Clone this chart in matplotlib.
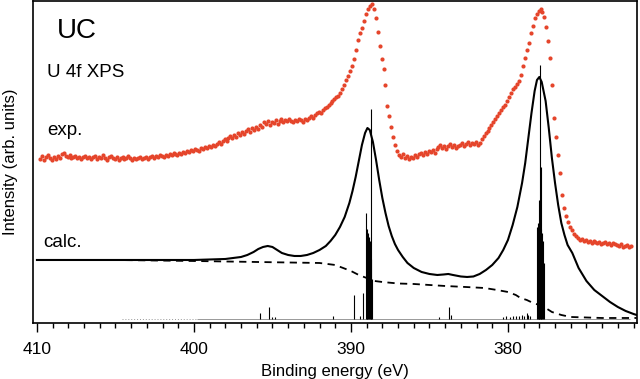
import numpy as np
import matplotlib
matplotlib.use('Agg')
import matplotlib.pyplot as plt
from matplotlib.ticker import MultipleLocator

plt.rcParams['font.family'] = ['Liberation Sans', 'DejaVu Sans']

# experimental U 4f XPS (red dots), measured from 409.8 down to 372.2 eV
exp_intensity = [
    164, 167, 163, 166, 168, 165, 163, 166, 164, 167,
    165, 169, 170, 167, 166, 168, 165, 166, 167, 165,
    166, 164, 166, 167, 165, 166, 164, 166, 167, 164,
    166, 165, 168, 165, 163, 166, 167, 165, 164, 166,
    163, 165, 166, 164, 165, 167, 165, 163, 165, 164,
    165, 166, 164, 165, 166, 164, 166, 167, 165, 167,
    166, 168, 167, 166, 168, 167, 169, 168, 170, 169,
    168, 170, 169, 171, 170, 172, 171, 173, 172, 174,
    173, 172, 175, 174, 176, 175, 177, 176, 178, 177,
    179, 181, 179, 182, 184, 182, 185, 187, 185, 188,
    186, 190, 188, 191, 189, 192, 194, 191, 195, 193,
    196, 194, 198, 196, 201, 199, 202, 198, 201, 200,
    203, 199, 202, 204, 201, 203, 202, 204, 202, 201,
    203, 202, 204, 203, 201, 204, 203, 205, 207, 205,
    208, 210, 211, 210, 213, 215, 216, 218, 220, 222,
    224, 226, 227, 230, 234, 238, 243, 247, 252, 257,
    264, 273, 283, 290, 295, 302, 309, 314, 317, 319,
    314, 305, 291, 277, 264, 254, 238, 217, 207, 196,
    186, 178, 172, 168, 166, 169, 165, 167, 164, 166,
    165, 168, 166, 169, 170, 168, 171, 169, 172, 171,
    173, 170, 174, 176, 178, 175, 177, 174, 177, 179,
    176, 178, 175, 177, 178, 180, 177, 179, 181, 178,
    180, 179, 181, 178, 180, 184, 187, 190, 192, 195,
    198, 201, 204, 207, 210, 213, 216, 218, 222, 226,
    230, 234, 236, 239, 242, 248, 257, 265, 273, 280,
    290, 297, 305, 309, 312, 314, 311, 306, 296, 282,
    265, 238, 205, 186, 168, 150, 128, 115, 107, 101,
    96, 93, 89, 87, 85, 83, 84, 82, 83, 81,
    82, 80, 82, 81, 80, 81, 79, 80, 81, 79,
    80, 78, 80, 79, 78, 77, 79, 76, 77, 78,
    76, 77,
]
exp_energy = np.linspace(409.8, 372.175, len(exp_intensity))

# calculated spectrum (solid)
calc_energy = [410.0, 408.0, 406.0, 404.0, 402.0, 400.0, 399.0, 398.0, 397.5, 397.0,
               396.6, 396.2, 395.9, 395.6, 395.3, 395.0, 394.7, 394.4, 394.0, 393.6,
               393.2, 392.8, 392.4, 392.0, 391.6, 391.3, 391.0, 390.7, 390.4, 390.1,
               389.9, 389.7, 389.5, 389.3, 389.1, 388.95, 388.8, 388.6, 388.4, 388.2,
               388.0, 387.8, 387.6, 387.4, 387.2, 387.0, 386.7, 386.4, 386.0, 385.5,
               385.0, 384.5, 384.1, 383.8, 383.5, 383.0, 382.6, 382.2, 381.8, 381.4,
               381.0, 380.6, 380.3, 380.0, 379.7, 379.4, 379.1, 378.9, 378.7, 378.5,
               378.3, 378.15, 378.0, 377.85, 377.6, 377.4, 377.2, 377.0, 376.8, 376.6,
               376.4, 376.2, 375.9, 375.5, 375.0, 374.5, 374.0, 373.5, 373.0, 372.5,
               372.0, 371.8]
calc_intensity = [63, 63, 63, 63, 63, 63, 63.5, 64, 65, 66,
                  68, 71, 74, 76, 77, 76, 73, 70, 68, 67,
                  67, 68, 70, 73, 77, 82, 88, 96, 106, 120,
                  132, 146, 162, 178, 190, 195, 193, 181, 163, 143,
                  125, 110, 97, 87, 79, 73, 66, 60, 55, 51,
                  49, 48, 48.5, 49, 48, 46.5, 46, 46.5, 49, 53,
                  58, 65, 73, 83, 98, 116, 140, 160, 185, 210,
                  232, 243, 246, 241, 222, 195, 165, 140, 118, 100,
                  88, 78, 70, 55, 42, 33, 27, 21, 16, 12,
                  9, 8]

# background (dashed)
bg_energy = [410.0, 405.0, 400.0, 396.0, 392.0, 391.0, 390.5, 390.0, 389.5, 389.0,
             388.5, 388.0, 387.0, 386.0, 384.0, 382.7, 381.5, 380.7, 380.0, 379.5,
             379.2, 378.8, 378.4, 378.0, 377.6, 377.2, 376.6, 376.0, 374.0, 372.0,
             371.8]
bg_intensity = [63, 63, 62, 61, 60, 58, 55, 52, 48, 45,
                42, 41, 39.5, 39, 37, 36, 35, 33, 31, 28,
                25, 23, 20, 18, 15, 11, 8, 6, 5, 5,
                5]

# line spectrum (sticks)
stick_base = 3.5
stick_energy = [395.8, 395.25, 395.0, 394.85, 391.15, 389.8, 389.4, 389.25, 389.05, 389.0,
                388.95, 388.9, 388.85, 388.8, 388.75, 388.7, 388.65, 384.4, 383.75, 383.65,
                380.3, 380.1, 379.9, 379.7, 379.5, 379.3, 379.1, 378.95, 378.8, 378.7,
                378.6, 378.15, 378.1, 378.05, 378.0, 377.96, 377.92, 377.88, 377.83, 377.78,
                377.73]
stick_height = [6, 12, 2, 2, 3, 24, 3, 26, 106, 84,
                90, 86, 82, 78, 60, 210, 40, 2, 12, 4,
                2.5, 3, 2.5, 3, 3.5, 3, 4, 3.5, 6, 4,
                3, 92, 96, 91, 119, 254, 152, 90, 86, 78,
                56]
weak_dotted = [404.6, 399.8]
weak_solid = [399.8, 372.2]

fig = plt.figure(figsize=(6.4, 3.79), dpi=100)
ax = fig.add_axes([0.0516, 0.1478, 0.9437, 0.8496])

ax.hlines(stick_base, weak_dotted[0], weak_dotted[1], color='#999999', lw=0.7, linestyles=(0, (1, 2)))
ax.hlines(stick_base, weak_solid[0], weak_solid[1], color='#999999', lw=0.7)
ax.vlines(stick_energy, stick_base, np.array(stick_height) + stick_base, color='black', lw=0.8)

ax.plot(bg_energy, bg_intensity, color='black', lw=1.3, ls=(0, (4, 3)))
ax.plot(calc_energy, calc_intensity, color='black', lw=1.5)
ax.scatter(exp_energy, exp_intensity, s=9, color='#e5452b', linewidths=0, zorder=3)

ax.set_xlim(410.25, 371.78)
ax.set_ylim(0, 322)
ax.xaxis.set_major_locator(MultipleLocator(10))
ax.xaxis.set_minor_locator(MultipleLocator(1))
ax.tick_params(axis='x', which='major', direction='out', length=6.5, width=1, labelsize=12.5, pad=7)
ax.tick_params(axis='x', which='minor', direction='out', length=3.6, width=1)
ax.set_yticks([])
for s in ax.spines.values():
    s.set_linewidth(1.2)

ax.set_xlabel('Binding energy (eV)', fontsize=12, labelpad=5)
ax.set_ylabel('Intensity (arb. units)', fontsize=12, labelpad=11)

ax.text(0.040, 0.885, 'UC', transform=ax.transAxes, fontsize=20, va='baseline')
ax.text(0.023, 0.764, 'U 4f XPS', transform=ax.transAxes, fontsize=13.5, va='baseline')
ax.text(0.023, 0.584, 'exp.', transform=ax.transAxes, fontsize=13.5, va='baseline')
ax.text(0.0166, 0.236, 'calc.', transform=ax.transAxes, fontsize=13.5, va='baseline')

fig.savefig('out.png', dpi=100)
